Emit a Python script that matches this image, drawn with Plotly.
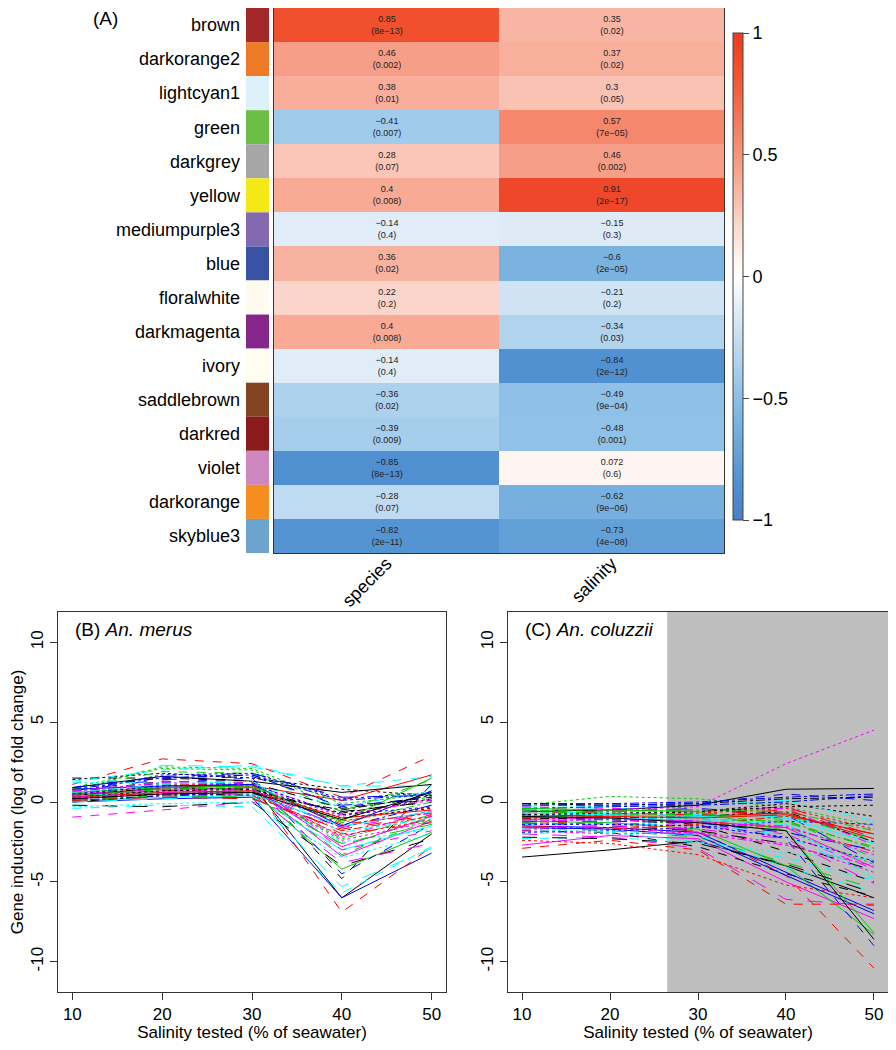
import plotly.graph_objects as go

# ---- (A) module-trait correlations ----
modules = ["brown", "darkorange2", "lightcyan1", "green", "darkgrey", "yellow",
           "mediumpurple3", "blue", "floralwhite", "darkmagenta", "ivory",
           "saddlebrown", "darkred", "violet", "darkorange", "skyblue3"]
module_colors = ["#A3282A", "#EC7A26", "#DDF1F8", "#6CBE45", "#A6A6A6", "#F4E816",
                 "#8369B0", "#3852A4", "#FFFAF0", "#87268A", "#FFFDF0",
                 "#854421", "#8B1A1A", "#CE87BF", "#F68E1F", "#6CA4CD"]
traits = ["species", "salinity"]
species_cor = [0.85, 0.46, 0.38, -0.41, 0.28, 0.4, -0.14, 0.36, 0.22, 0.4,
               -0.14, -0.36, -0.39, -0.85, -0.28, -0.82]
species_p = ["8e-13", "0.002", "0.01", "0.007", "0.07", "0.008", "0.4", "0.02",
             "0.2", "0.008", "0.4", "0.02", "0.009", "8e-13", "0.07", "2e-11"]
salinity_cor = [0.35, 0.37, 0.3, 0.57, 0.46, 0.91, -0.15, -0.6, -0.21, -0.34,
                -0.84, -0.49, -0.48, 0.072, -0.62, -0.73]
salinity_p = ["0.02", "0.02", "0.05", "7e-05", "0.002", "2e-17", "0.3", "2e-05",
              "0.2", "0.03", "2e-12", "9e-04", "0.001", "0.6", "9e-06", "4e-08"]

# ---- (B)/(C) gene profiles, values at each salinity ----
salinity = [10, 20, 30, 40, 50]
merus_profiles = [
    [0.3, 0.9, 1.1, -6.0, -2.0], [1.1, 2.7, 2.4, 0.3, 2.9], [0.9, 2.1, 2.0, -0.4, 0.3],
    [0.8, 1.5, 1.7, 0.1, 0.5], [0.6, 2.3, 2.2, 1.0, 1.0], [0.4, 0.7, 0.9, -3.4, -1.2],
    [1.5, 1.5, 1.3, -4.8, 1.1], [0.5, 0.8, 0.6, -1.2, -0.3], [0.2, 0.6, 0.7, -2.3, -0.8],
    [0.7, 1.4, 1.6, -0.2, 0.1], [0.1, 0.3, 0.4, -3.0, -1.5], [-0.95, -0.5, 0.0, -1.5, -0.6],
    [1.4, 1.8, 1.5, 0.8, 0.4], [0.3, 0.5, 0.4, -1.8, -0.9], [0.5, 1.0, 1.1, -2.7, -1.0],
    [0.0, 0.2, 0.3, -6.0, -3.2], [-0.4, -0.2, -0.3, -5.7, -2.8], [0.6, 1.1, 1.0, -0.9, 0.2],
    [0.0, 0.4, 0.5, -0.5, 0.4], [0.4, 0.7, 0.8, -2.0, -1.3], [0.3, 0.6, 0.7, -4.2, -1.9],
    [0.5, 1.2, 1.5, -4.5, -1.4], [0.2, 0.5, 0.6, -2.5, -1.7], [0.3, 0.9, 0.8, -2.2, -0.5],
    [-0.2, -0.3, 0.0, -4.0, -2.3], [0.4, 0.9, 1.0, 0.1, 1.7], [0.8, 1.9, 1.8, -0.6, 1.4],
    [0.6, 1.7, 1.8, 0.2, 0.6], [1.2, 1.2, 1.1, -0.3, 0.7], [0.2, 0.3, 0.5, -3.8, -2.6],
    [0.9, 1.6, 1.3, 0.6, 1.1], [0.5, 1.0, 1.2, -6.9, -2.8], [0.7, 2.2, 2.1, -0.1, 0.5],
    [0.1, 0.4, 0.6, -1.6, -0.2], [0.0, 0.2, 0.4, -5.3, -2.9], [0.5, 0.8, 0.9, -2.8, -0.9],
    [0.6, 1.3, 1.2, -0.4, 0.3], [0.2, 0.6, 0.5, -2.1, -1.1], [0.3, 0.8, 0.9, -1.3, 0.0],
    [0.9, 1.6, 1.8, 0.3, 0.4], [0.4, 0.6, 0.5, -1.5, -0.6], [0.5, 1.3, 1.2, -3.0, -1.8],
    [0.3, 0.7, 0.8, -1.0, -0.4], [0.6, 1.1, 1.0, -1.4, -0.7], [0.1, 0.4, 0.3, -2.6, -1.4],
    [0.8, 1.0, 1.1, -1.5, 0.7], [1.3, 2.0, 2.3, 1.0, 1.6], [0.2, 0.5, 0.7, -2.4, -1.2],
    [0.4, 0.9, 0.8, -0.7, 0.2], [0.1, 0.3, 0.2, -1.7, -0.8], [0.6, 0.9, 1.0, -1.2, 1.5],
    [0.9, 1.5, 1.7, -0.3, 0.3], [-0.3, -0.1, 0.0, -3.5, -2.0], [0.7, 1.2, 1.1, -0.8, 0.1],
    [0.2, 0.5, 0.6, -0.6, 0.0], [0.3, 0.6, 0.7, -1.0, -0.5], [0.4, 0.8, 0.9, -3.3, -1.1],
    [0.5, 1.0, 1.1, -0.8, -0.3], [0.6, 1.1, 1.3, -1.9, -1.0], [0.3, 0.6, 0.8, -1.6, -0.7],
    [0.2, 0.5, 0.6, -1.1, 0.6],
]
coluzzii_profiles = [
    [-3.45, -3.0, -2.45, -4.0, -6.0], [-1.2, -1.4, -1.8, -4.6, -10.4], [-0.2, 0.35, 0.2, -0.3, -1.5],
    [-0.1, -0.1, 0.0, 0.3, 0.5], [-0.3, -0.4, -0.5, -1.0, -2.2], [-2.7, -2.1, -2.3, -5.0, -7.3],
    [-1.8, -1.9, -2.8, -4.5, -5.9], [-0.8, -0.9, -0.7, -0.4, -1.7], [-1.0, -1.0, -1.1, -1.2, -2.9],
    [-0.5, -0.6, -0.4, -0.8, -3.8], [-0.6, -0.7, -0.8, -0.9, -2.0], [-1.4, -1.3, -1.5, -2.0, -4.2],
    [-0.7, -0.8, -0.6, -0.1, -0.9], [-1.0, -1.1, -1.3, -1.6, -3.1], [-1.6, -1.8, -2.2, -3.8, -5.4],
    [-1.5, -1.6, -1.9, -4.4, -6.8], [-2.3, -2.2, -2.6, -3.5, -4.9], [-0.6, -0.5, -0.3, 2.4, 4.5],
    [-0.9, -1.0, -0.9, -0.6, -2.5], [-0.4, -0.5, -0.6, -0.3, -2.1], [-1.2, -1.3, -1.7, -4.0, -8.3],
    [-0.8, -0.9, -1.2, -2.3, -9.0], [-1.1, -1.2, -1.0, -1.4, -3.4], [-1.7, -1.6, -2.0, -2.7, -4.0],
    [-1.3, -1.5, -1.8, -2.6, -4.3], [-0.9, -0.8, -0.9, -0.7, -2.3], [-0.7, -0.8, -0.7, -1.1, -3.5],
    [-1.9, -1.8, -1.6, -1.2, -1.4], [-0.2, -0.3, -0.2, 0.1, -1.2], [-2.0, -2.2, -2.9, -6.1, -6.5],
    [-0.6, -0.5, -0.2, 0.8, 0.85], [-2.9, -2.4, -3.0, -6.4, -6.4], [-1.3, -1.4, -1.2, -1.8, -3.9],
    [-0.4, -0.3, -0.2, 0.0, 0.4], [-1.4, -1.5, -1.3, -2.1, -4.6], [-1.1, -1.0, -1.2, -1.6, -4.1],
    [-1.0, -1.1, -1.4, -3.1, -5.0], [-2.4, -2.6, -3.3, -5.2, -6.0], [-0.5, -0.6, -0.5, -0.6, -1.8],
    [-1.2, -1.2, -1.3, -1.9, -3.0], [-0.7, -0.8, -0.9, -1.0, -2.6], [-0.3, -0.4, -0.5, -0.4, -2.7],
    [-0.8, -0.7, -0.6, -0.3, -0.2], [-1.5, -1.7, -1.4, -0.9, -2.0], [-0.9, -0.9, -1.0, -0.8, -2.4],
    [-1.6, -1.7, -2.1, -4.6, -7.0], [-2.0, -1.8, -2.1, -4.1, -5.6], [-1.8, -2.0, -1.9, -2.6, -4.4],
    [-0.1, -0.2, -0.1, 0.2, 0.3], [-0.6, -0.7, -0.8, -0.5, -2.2], [-0.4, -0.5, -0.6, -1.8, -8.2],
    [-0.2, -0.2, -0.1, 0.5, 0.1], [-1.7, -1.9, -2.5, -3.2, -3.6], [-1.2, -1.1, -1.3, -1.5, -3.3],
    [-2.2, -2.3, -2.6, -3.9, -5.7], [-1.0, -0.9, -1.0, -0.8, -2.0], [-0.6, -0.7, -0.8, -1.3, -2.8],
    [-1.4, -1.4, -1.5, -2.2, -3.7], [-0.9, -1.0, -1.1, -1.4, -4.8], [-1.6, -1.5, -1.7, -2.3, -5.1],
    [-0.9, -1.0, -1.3, -1.8, -8.6],
]
SHADE_FROM = 26.5  # salinity above which An. coluzzii is shaded

FONT = "Liberation Sans, Arial, Helvetica, sans-serif"
line_cols = ["black", "#FF0000", "#00CD00", "#0000FF", "#00FFFF", "#FF00FF"]
line_dash = ["solid", "dash", "dot", "dashdot", "longdash"]

bwr = [[0.0, "#4A7FC6"], [0.075, "#5090D0"], [0.2, "#7AB2E0"], [0.255, "#8EC0E8"],
       [0.295, "#A0CBEB"], [0.43, "#E0ECF7"], [0.5, "#FFFFFF"], [0.536, "#FEF5F2"],
       [0.61, "#FBD5CA"], [0.69, "#F8AE9A"], [0.785, "#F4876C"], [0.925, "#F0502D"],
       [1.0, "#EE3A22"]]

# the page puts the figure 8px in from the top-left corner; keep it inside the window
W, H, OFF = 880, 1034, 8


def px(x):
    return min(1.0, (x - OFF) / W)


def py(y):
    return min(1.0, 1 - (y - OFF) / H)


def fmt(v):
    return str(v).replace("-", "\u2212")


z = [[s, t] for s, t in zip(species_cor, salinity_cor)]
cell_text = [[fmt(s) + "<br>(" + fmt(sp) + ")", fmt(t) + "<br>(" + fmt(tp) + ")"]
             for s, sp, t, tp in zip(species_cor, species_p, salinity_cor, salinity_p)]

fig = go.Figure()
fig.add_trace(go.Heatmap(
    z=z, x=traits, y=modules, zmin=-1, zmax=1, colorscale=bwr,
    text=cell_text, texttemplate="%{text}",
    textfont=dict(size=9, color="#222222", family=FONT),
    hoverinfo="skip", xaxis="x", yaxis="y",
    colorbar=dict(x=px(733), xanchor="left", xpad=0, ypad=0,
                  y=py(276.5), yanchor="middle", len=487 / H, lenmode="fraction",
                  thickness=10, outlinewidth=1, outlinecolor="#444444",
                  tickvals=[-1, -0.5, 0, 0.5, 1],
                  ticktext=["\u22121", "\u22120.5", "0", "0.5", "1"],
                  ticks="outside", ticklen=6, tickcolor="#444444",
                  tickfont=dict(size=18, family=FONT, color="black")),
))
fig.add_trace(go.Bar(
    x=[1] * len(modules), y=modules, orientation="h", width=1,
    marker=dict(color=module_colors, line_width=0),
    hoverinfo="skip", xaxis="x2", yaxis="y2",
))

for i, prof in enumerate(merus_profiles):
    fig.add_trace(go.Scatter(
        x=salinity, y=prof, mode="lines", xaxis="x3", yaxis="y3", hoverinfo="skip",
        line=dict(color=line_cols[i % 6], dash=line_dash[i % 5], width=1)))
for i, prof in enumerate(coluzzii_profiles):
    fig.add_trace(go.Scatter(
        x=salinity, y=prof, mode="lines", xaxis="x4", yaxis="y4", hoverinfo="skip",
        line=dict(color=line_cols[i % 6], dash=line_dash[i % 5], width=1)))

frame = dict(showline=True, mirror=True, linecolor="#333333", linewidth=1,
             showgrid=False, zeroline=False)
heat_y = [py(553), py(1)]
panel_y = [py(992), py(612)]
xticks = dict(tickvals=[10, 20, 30, 40, 50], ticks="outside", ticklen=7,
              tickcolor="#333333", tickfont=dict(size=17, family=FONT, color="black"),
              range=[8.4, 51.6])
yticks = dict(tickvals=[-10, -5, 0, 5, 10], ticktext=["-10", "-5", "0", "5", "10"],
              tickangle=-90, ticks="outside", ticklen=7, tickcolor="#333333",
              tickfont=dict(size=17, family=FONT, color="black"), range=[-11.9, 11.9])
xtitle = dict(text="Salinity tested (% of seawater)", standoff=4,
              font=dict(size=17, family=FONT, color="black"))

fig.update_layout(
    width=W, height=H, margin=dict(l=0, r=0, t=0, b=0),
    paper_bgcolor="white", plot_bgcolor="white", showlegend=False,
    font=dict(family=FONT, color="black"),
    xaxis=dict(domain=[px(274), px(724)], anchor="y", tickangle=-45, ticks="",
               ticklabelstandoff=-8,
               tickfont=dict(size=18, family=FONT, color="black"), **frame),
    yaxis=dict(domain=heat_y, anchor="x", autorange="reversed", showticklabels=False,
               ticks="", **frame),
    xaxis2=dict(domain=[px(246), px(269)], anchor="y2", range=[0, 1], visible=False),
    yaxis2=dict(domain=heat_y, anchor="x2", autorange="reversed", ticks="",
                showgrid=False, zeroline=False, showline=False, ticklabelstandoff=5,
                tickfont=dict(size=18, family=FONT, color="black")),
    xaxis3=dict(domain=[px(58), px(446)], anchor="y3", title=xtitle, **xticks, **frame),
    yaxis3=dict(domain=panel_y, anchor="x3", **yticks, **frame,
                title=dict(text="Gene induction (log of fold change)", standoff=2,
                           font=dict(size=17, family=FONT, color="black"))),
    xaxis4=dict(domain=[px(508), px(888)], anchor="y4", title=xtitle, **xticks, **frame),
    yaxis4=dict(domain=panel_y, anchor="x4", **yticks, **frame),
    shapes=[dict(type="rect", xref="x4", yref="y4 domain", x0=SHADE_FROM, x1=51.6,
                 y0=0, y1=1, fillcolor="#BEBEBE", line_width=0, layer="below")],
    annotations=[
        dict(text="(A)", x=px(105), y=py(19), xref="paper", yref="paper",
             xanchor="center", yanchor="middle",
             showarrow=False, font=dict(size=19, family=FONT)),
        dict(text="(B) <i>An. merus</i>", x=0.039, y=0.953, xref="x3 domain",
             yref="y3 domain", xanchor="left", yanchor="middle", showarrow=False,
             font=dict(size=19, family=FONT)),
        dict(text="(C) <i>An. coluzzii</i>", x=0.039, y=0.953, xref="x4 domain",
             yref="y4 domain", xanchor="left", yanchor="middle", showarrow=False,
             font=dict(size=19, family=FONT)),
    ],
)

fig.write_html("out.html")
